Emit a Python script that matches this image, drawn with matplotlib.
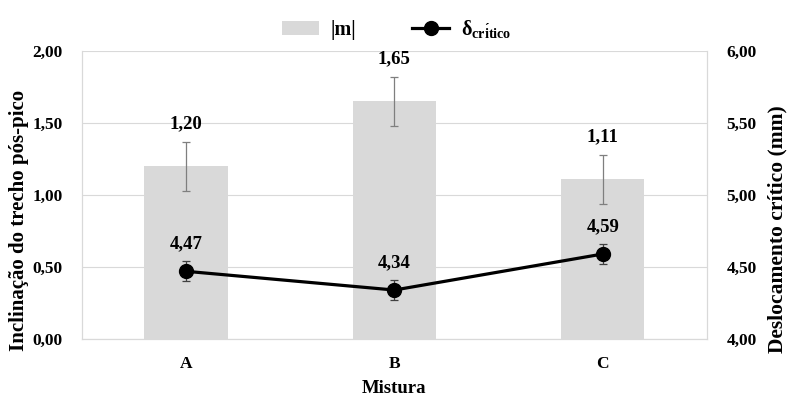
import matplotlib.pyplot as plt
import numpy as np

misturas = ["A", "B", "C"]
m_vals = [1.20, 1.65, 1.11]
m_err = [0.17, 0.17, 0.17]
d_vals = [4.47, 4.34, 4.59]
d_err = [0.07, 0.07, 0.07]

plt.rcParams['font.family'] = ['Liberation Serif', 'DejaVu Serif']
plt.rcParams['font.weight'] = 'bold'
plt.rcParams['mathtext.fontset'] = 'custom'
plt.rcParams['mathtext.rm'] = 'Liberation Serif'
plt.rcParams['mathtext.bf'] = 'Liberation Serif:bold'

fig = plt.figure(figsize=(7.88, 3.97), dpi=100)
ax = fig.add_axes([0.104, 0.146, 0.793, 0.726])
ax2 = ax.twinx()

x = np.arange(len(misturas))
ax.bar(x, m_vals, width=0.40, color="#d9d9d9", label="|m|", zorder=2)
ax.errorbar(x, m_vals, yerr=m_err, fmt="none", ecolor="#7f7f7f",
            elinewidth=0.9, capsize=3, capthick=0.9, zorder=3)
for xi, v, e in zip(x, m_vals, m_err):
    ax.text(xi, v + e + 0.065, f"{v:.2f}".replace(".", ","), ha="center",
            va="bottom", fontsize=13.5, fontweight="bold")

ax2.errorbar(x, d_vals, yerr=d_err, fmt="none", ecolor="#404040",
             elinewidth=0.9, capsize=3, capthick=0.9, zorder=3)
ax2.plot(x, d_vals, color="black", lw=2.3, marker="o", markersize=10,
         label="d", zorder=4)
for xi, v in zip(x, d_vals):
    ax2.text(xi, v + 0.13, f"{v:.2f}".replace(".", ","), ha="center",
             va="bottom", fontsize=13.5, fontweight="bold")

ax.set_xlim(-0.5, 2.5)
ax.set_ylim(0, 2)
ax2.set_ylim(4, 6)
lt = np.arange(0, 2.01, 0.5)
rt = np.arange(4, 6.01, 0.5)
ax.set_yticks(lt)
ax2.set_yticks(rt)
ax.set_yticklabels([f"{t:.2f}".replace(".", ",") for t in lt])
ax2.set_yticklabels([f"{t:.2f}".replace(".", ",") for t in rt])
ax.set_xticks(x)
ax.set_xticklabels(misturas)

ax.grid(axis="y", color="#d9d9d9", lw=0.8, zorder=0)
ax.set_axisbelow(True)
for a in (ax, ax2):
    a.spines["top"].set_visible(False)
    for s in ("left", "right", "bottom"):
        a.spines[s].set_color("#d9d9d9")
    a.tick_params(length=0, labelsize=12.5, pad=14)
ax.tick_params(axis="x", pad=12)

ax.set_xlabel("Mistura", fontsize=13.5, fontweight="bold", labelpad=6)
ax.set_ylabel("Inclinação do trecho pós-pico", fontsize=15, fontweight="bold")
ax2.set_ylabel("Deslocamento crítico (mm)", fontsize=15.5, fontweight="bold")
ax.yaxis.set_label_coords(-0.085, 0.41)
ax2.yaxis.set_label_coords(1.097, 0.38)

h1, l1 = ax.get_legend_handles_labels()
h2, l2 = ax2.get_legend_handles_labels()
fig.legend(h1 + h2, ["|m|", r"$\mathbf{\delta_{cr\'itico}}$"], loc="upper center",
           ncol=2, frameon=False, fontsize=14.5, bbox_to_anchor=(0.503, 1.0),
           columnspacing=2.8, handlelength=1.85, handletextpad=0.55)

fig.savefig("out.png", dpi=100)
